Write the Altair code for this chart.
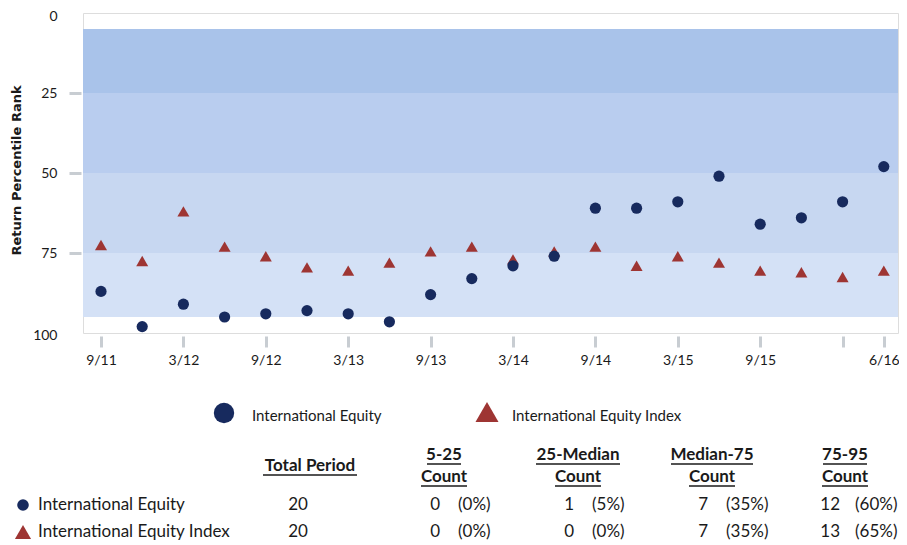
import altair as alt
import pandas as pd

# ---------------- data ----------------
quarters = ["9/11", "12/11", "3/12", "6/12", "9/12", "12/12", "3/13", "6/13", "9/13", "12/13",
            "3/14", "6/14", "9/14", "12/14", "3/15", "6/15", "9/15", "12/15", "3/16", "6/16"]
fund_rank = [87, 98, 91, 95, 94, 93, 94, 96.5, 88, 83, 79, 76, 61, 61, 59, 51, 66, 64, 59, 48]
index_rank = [72.5, 77.5, 62, 73, 76, 79.5, 80.5, 78, 74.5, 73, 77, 74.5, 73, 79, 76, 78, 80.5, 81, 82.5, 80.5]
series_names = ["International Equity", "International Equity Index"]

band_lo = [5, 25, 50, 75]
band_hi = [25, 50, 75, 95]
band_colors = ["#a9c3ea", "#b9cdef", "#c7d7f1", "#d4e1f6"]

y_ticks = [0, 25, 50, 75, 100]
x_tick_idx = [0, 2, 4, 6, 8, 10, 12, 14, 16, 18, 19]
x_tick_labels = ["9/11", "3/12", "9/12", "3/13", "9/13", "3/14", "9/14", "3/15", "9/15", "", "6/16"]

col_headers = ["5-25", "25-Median", "Median-75", "75-95"]
total_period = [20, 20]
fund_counts = [0, 1, 7, 12]
index_counts = [0, 0, 7, 13]
fund_pcts = ["(0%)", "(5%)", "(35%)", "(60%)"]
index_pcts = ["(0%)", "(0%)", "(35%)", "(65%)"]

# ---------------- style / layout ----------------
NAVY = "#172a5e"
RED = "#9e3533"
TXT = "#1a1a1a"
TICK = "#c8cdd2"
FONT = "Lato"
W, H = 815, 320
OX, OY = 83, 13  # page position of plot origin

pts = pd.DataFrame({"i": list(range(len(quarters))), "quarter": quarters,
                    "fund": fund_rank, "index": index_rank})
bands = pd.DataFrame({"lo": band_lo, "hi": band_hi, "c": band_colors})

xscale = alt.Scale(domain=[-0.437, 19.345], nice=False, zero=False)
yscale = alt.Scale(domain=[0, 100], reverse=True, nice=False, zero=False)

label_expr = ("[" + ",".join(f"'{s}'" for s in x_tick_labels) + "][indexof(["
              + ",".join(str(v) for v in x_tick_idx) + "], datum.value)]")

xaxis = alt.Axis(values=x_tick_idx, labelExpr=label_expr, title=None, domain=False,
                 grid=False, ticks=True, tickColor=TICK, tickWidth=3, tickSize=11,
                 offset=3, labelPadding=6, labelFont=FONT, labelFontSize=14,
                 labelColor=TXT, labelAngle=0)
yaxis = alt.Axis(values=y_ticks, title="Return Percentile Rank", domain=False, grid=False,
                 tickColor={"expr": f"datum.value == 0 || datum.value == 100 ? 'transparent' : '{TICK}'"},
                 labelOffset={"expr": "datum.value == 0 ? 3 : (datum.value == 100 ? 2 : 0)"},
                 tickWidth=3, tickSize=12, offset=2, labelPadding=12,
                 labelFont=FONT, labelFontSize=14, labelColor=TXT,
                 titleFont="DejaVu Sans", titleFontSize=13, titleFontWeight="bold", titleColor=TXT,
                 titleX=18 - OX, titleY=170 - OY, titleAngle=-90,
                 titleAlign="center", titleBaseline="middle")

band_layer = alt.Chart(bands).mark_rect().encode(
    x=alt.value(0), x2=alt.value(W),
    y=alt.Y("lo:Q", scale=yscale, axis=yaxis), y2="hi:Q",
    color=alt.Color("c:N", scale=None, legend=None),
)
index_layer = alt.Chart(pts).mark_point(shape="triangle-up", filled=True, size=144,
                                        color=RED, opacity=1).encode(
    x=alt.X("i:Q", scale=xscale, axis=xaxis),
    y=alt.Y("index:Q", scale=yscale, axis=yaxis),
)
fund_layer = alt.Chart(pts).mark_point(shape="circle", filled=True, size=125,
                                       color=NAVY, opacity=1).encode(
    x=alt.X("i:Q", scale=xscale, axis=xaxis),
    y=alt.Y("fund:Q", scale=yscale, axis=yaxis),
)
main = alt.layer(band_layer, index_layer, fund_layer)

# ---------------- legend + table (pixel layout) ----------------
ROW_Y = [505, 532]
COUNT_RIGHT = [440, 574, 708, 840]
PCT_LEFT = [458, 592, 726, 855]
HEAD_CX = [444, 578, 712, 845]
HEAD_HALF = [17, 42, 41, 22]
COUNT_HALF = 23
TOTAL_CX, TOTAL_HEAD_CX = 298, 310
HEAD_Y1, HEAD_Y2, TOTAL_HEAD_Y = 455, 477, 466
TFS = 17


def P(x, y):
    return x - OX, y - OY


markers = pd.DataFrame([
    dict(zip(["px", "py"], P(224, 413)), shape="circle", s=415, c=NAVY),
    dict(zip(["px", "py"], P(487, 412)), shape="triangle-up", s=530, c=RED),
    dict(zip(["px", "py"], P(23, 505)), shape="circle", s=135, c=NAVY),
    dict(zip(["px", "py"], P(23, 532)), shape="triangle-up", s=260, c=RED),
])
marker_layer = alt.Chart(markers).mark_point(filled=True, opacity=1).encode(
    x=alt.X("px:Q", scale=None, axis=None), y=alt.Y("py:Q", scale=None, axis=None),
    shape=alt.Shape("shape:N", scale=None, legend=None),
    size=alt.Size("s:Q", scale=None, legend=None),
    color=alt.Color("c:N", scale=None, legend=None),
)

left_rows = []
for name, (x, y) in zip(series_names, [(252, 416), (512, 416)]):
    px, py = P(x, y)
    left_rows.append({"px": px, "py": py, "t": name, "f": 15})
for name, y in zip(series_names, ROW_Y):
    px, py = P(38, y)
    left_rows.append({"px": px, "py": py, "t": name, "f": TFS})
for r, pcts in enumerate([fund_pcts, index_pcts]):
    for c in range(4):
        px, py = P(PCT_LEFT[c], ROW_Y[r])
        left_rows.append({"px": px, "py": py, "t": pcts[c], "f": TFS})
left_df = pd.DataFrame(left_rows)

right_rows = []
for r, counts in enumerate([fund_counts, index_counts]):
    for c in range(4):
        px, py = P(COUNT_RIGHT[c], ROW_Y[r])
        right_rows.append({"px": px, "py": py, "t": str(counts[c])})
right_df = pd.DataFrame(right_rows)

center_rows = []
for r, tot in enumerate(total_period):
    px, py = P(TOTAL_CX, ROW_Y[r])
    center_rows.append({"px": px, "py": py, "t": str(tot)})
center_df = pd.DataFrame(center_rows)

head_rows = [dict(zip(["px", "py"], P(TOTAL_HEAD_CX, TOTAL_HEAD_Y)), t="Total Period")]
ul_rows = [{"x1": 263 - OX, "x2": 357 - OX, "y": TOTAL_HEAD_Y + 9 - OY}]
for c, h in enumerate(col_headers):
    head_rows.append(dict(zip(["px", "py"], P(HEAD_CX[c], HEAD_Y1)), t=h))
    head_rows.append(dict(zip(["px", "py"], P(HEAD_CX[c], HEAD_Y2)), t="Count"))
    ul_rows.append({"x1": HEAD_CX[c] - HEAD_HALF[c] - OX, "x2": HEAD_CX[c] + HEAD_HALF[c] - OX,
                    "y": HEAD_Y1 + 9 - OY})
    ul_rows.append({"x1": HEAD_CX[c] - COUNT_HALF - OX, "x2": HEAD_CX[c] + COUNT_HALF - OX,
                    "y": HEAD_Y2 + 9 - OY})
head_df = pd.DataFrame(head_rows)
ul_df = pd.DataFrame(ul_rows)

XN = alt.X("px:Q", scale=None, axis=None)
YN = alt.Y("py:Q", scale=None, axis=None)

left_layer = alt.Chart(left_df).mark_text(align="left", baseline="middle", font=FONT,
                                          color=TXT).encode(
    x=XN, y=YN, text="t:N", size=alt.Size("f:Q", scale=None, legend=None))
right_layer = alt.Chart(right_df).mark_text(align="right", baseline="middle", font=FONT,
                                            fontSize=TFS, color=TXT).encode(x=XN, y=YN, text="t:N")
center_layer = alt.Chart(center_df).mark_text(align="center", baseline="middle", font=FONT,
                                              fontSize=TFS, color=TXT).encode(x=XN, y=YN, text="t:N")
head_layer = alt.Chart(head_df).mark_text(align="center", baseline="middle", font=FONT,
                                          fontSize=TFS, fontWeight="bold", color=TXT).encode(
    x=XN, y=YN, text="t:N")
ul_layer = alt.Chart(ul_df).mark_rule(color=TXT, strokeWidth=1.5).encode(
    x=alt.X("x1:Q", scale=None, axis=None), x2="x2:Q",
    y=alt.Y("y:Q", scale=None, axis=None))

chart = alt.layer(
    main, marker_layer, left_layer, right_layer, center_layer, head_layer, ul_layer
).resolve_scale(x="independent", y="independent").properties(
    width=W, height=H,
    autosize=alt.AutoSizeParams(type="none"),
    padding={"left": 75, "top": 5, "right": 1, "bottom": 212},
).configure_view(stroke="#000000", strokeWidth=2).configure(background="white")

chart.save("out.html", embed_options={"renderer": "svg", "actions": False})
